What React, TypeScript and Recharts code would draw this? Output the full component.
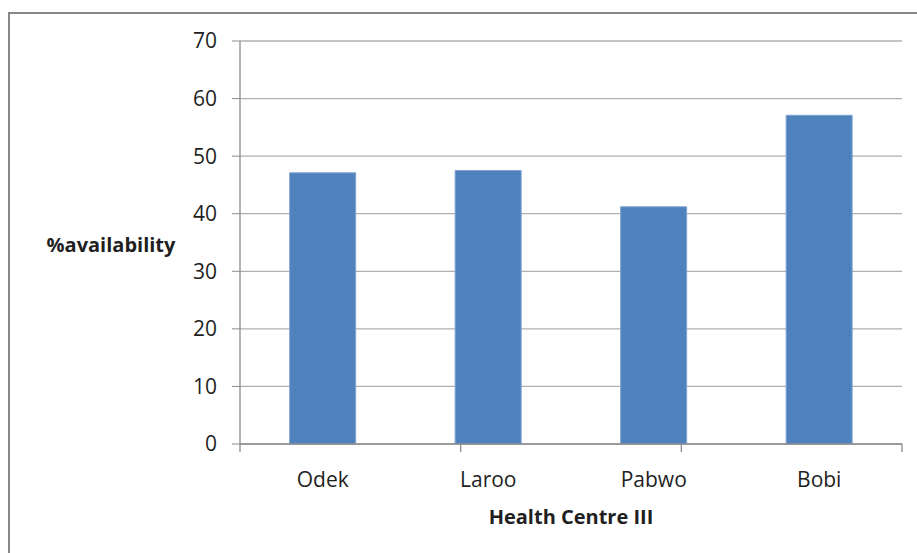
import { BarChart, Bar, XAxis, YAxis, CartesianGrid } from "recharts"

const centres = ["Odek", "Laroo", "Pabwo", "Bobi"]
const availability = [47.1, 47.5, 41.2, 57.1]
const yTicks = [0, 10, 20, 30, 40, 50, 60, 70]
const edgeTicks = [0, 1, 2, 3, 4]

const data = centres.map((name, i) => ({ name, value: availability[i] }))

const font = "'Open Sans', sans-serif"
const textColor = "#1f1f1f"
const axisColor = "#8c8c8c"

export default function App() {
  return (
    <div
      style={{
        position: "fixed",
        left: 0,
        top: 0,
        width: 917,
        height: 553,
        overflow: "hidden",
        background: "#fff",
        fontFamily: font,
      }}
    >
      <div
        style={{
          position: "absolute",
          left: 8,
          top: 12,
          width: 940,
          height: 580,
          border: "2px solid #878787",
          boxSizing: "border-box",
        }}
      />
      <div style={{ position: "absolute", left: 0, top: 0 }}>
        <BarChart
          width={917}
          height={553}
          data={data}
          margin={{ top: 41, right: 15, bottom: 0, left: 0 }}
          barCategoryGap="30%"
        >
          <CartesianGrid vertical={false} stroke="#b0b0b0" strokeWidth={1.3} />
          {/* tick marks sit on the category boundaries, so a numeric axis (id 0, nearest the plot) draws them */}
          <XAxis
            xAxisId={0}
            type="number"
            domain={[0, 4]}
            ticks={edgeTicks}
            interval={0}
            allowDataOverflow
            tick={() => <g />}
            axisLine={{ stroke: axisColor, strokeWidth: 1.3 }}
            tickLine={{ stroke: axisColor, strokeWidth: 1.3 }}
            tickSize={8}
            height={1}
          />
          <XAxis
            xAxisId="names"
            dataKey="name"
            height={108}
            tickLine={false}
            axisLine={false}
            tickMargin={21}
            tick={{ fill: textColor, fontSize: 21, fontFamily: font }}
            label={({ viewBox }: any) => (
              <text
                x={viewBox.x + viewBox.width / 2}
                y={viewBox.y + 79}
                textAnchor="middle"
                fill={textColor}
                fontSize={20}
                fontWeight="bold"
                fontFamily={font}
              >
                Health Centre III
              </text>
            )}
          />
          <YAxis
            width={240}
            domain={[0, 70]}
            ticks={yTicks}
            interval={0}
            tickSize={8}
            tickMargin={15}
            stroke={axisColor}
            axisLine={{ stroke: axisColor, strokeWidth: 1.3 }}
            tick={{ fill: textColor, fontSize: 21, fontFamily: font }}
            label={({ viewBox }: any) => (
              <text
                x={viewBox.x + 111}
                y={viewBox.y + viewBox.height / 2 + 9}
                textAnchor="middle"
                fill={textColor}
                fontSize={20}
                fontWeight="bold"
                fontFamily={font}
              >
                %availability
              </text>
            )}
          />
          <Bar
            xAxisId="names"
            dataKey="value"
            fill="#4f81bd"
            stroke="#7ea3d1"
            strokeWidth={1}
            isAnimationActive={false}
          />
        </BarChart>
      </div>
    </div>
  )
}
